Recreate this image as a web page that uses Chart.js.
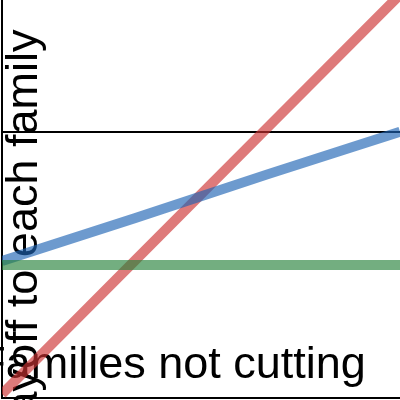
<!DOCTYPE html>
<html>
<head>
<meta charset="utf-8">
<script src="https://cdn.jsdelivr.net/npm/chart.js@4"></script>
<style>
  html, body { margin: 0; padding: 0; background: #fff; }
  #wrap { width: 400px; height: 400px; }
</style>
</head>
<body>
<div id="wrap"><canvas id="payoffChart"></canvas></div>
<script>
// Families not cutting (x) and the payoff lines
const familiesNotCutting = [0, 1, 2, 3];
const payoffRed = [0.03, 1.03, 2.03, 3.03];
const payoffBlue = [1.03, 1.35, 1.68, 2.0];
const payoffGreen = [1, 1, 1, 1];
const yGridValues = [0, 2];

const xTitle = 'Families not cutting';
const yTitle = 'Payoff to each family';

function toPoints(values) {
    return familiesNotCutting.map((x, i) => ({ x: x, y: values[i] }));
}

// Axis titles sit over the plot area, under the lines
const axisTitles = {
    id: 'axisTitles',
    beforeDatasetsDraw(chart) {
        const ctx = chart.ctx;
        ctx.save();
        ctx.fillStyle = '#000';
        ctx.font = '45px "Liberation Sans", Arial, sans-serif';
        ctx.textAlign = 'center';
        ctx.textBaseline = 'alphabetic';
        ctx.fillText(xTitle, 172, 378);
        ctx.translate(37, 238);
        ctx.rotate(-Math.PI / 2);
        ctx.fillText(yTitle, 0, 0);
        ctx.restore();
    }
};

const ctx = document.getElementById('payoffChart').getContext('2d');
new Chart(ctx, {
    type: 'line',
    data: {
        datasets: [{
            label: 'Flat payoff',
            data: toPoints(payoffGreen),
            borderColor: 'rgba(40, 130, 60, 0.65)',
            borderWidth: 10,
            pointRadius: 0,
            tension: 0
        }, {
            label: 'Slow payoff',
            data: toPoints(payoffBlue),
            borderColor: 'rgba(31, 100, 180, 0.65)',
            borderWidth: 10,
            pointRadius: 0,
            tension: 0
        }, {
            label: 'Steep payoff',
            data: toPoints(payoffRed),
            borderColor: 'rgba(204, 51, 51, 0.65)',
            borderWidth: 10,
            pointRadius: 0,
            tension: 0
        }]
    },
    options: {
        responsive: true,
        maintainAspectRatio: false,
        animation: false,
        layout: {
            padding: { left: 2, bottom: 2, top: 0, right: 0 }
        },
        plugins: {
            legend: { display: false },
            tooltip: { enabled: false }
        },
        scales: {
            x: {
                type: 'linear',
                min: 0,
                max: 3,
                ticks: { display: false },
                grid: { display: false, drawTicks: false },
                border: { display: true, color: '#000', width: 2 }
            },
            y: {
                min: 0,
                max: 2.99,
                afterBuildTicks: scale => {
                    scale.ticks = yGridValues.map(v => ({ value: v }));
                },
                ticks: { display: false },
                grid: { color: '#000', lineWidth: 2, drawTicks: false },
                border: { display: true, color: '#000', width: 2 }
            }
        }
    },
    plugins: [axisTitles]
});
</script>
</body>
</html>
